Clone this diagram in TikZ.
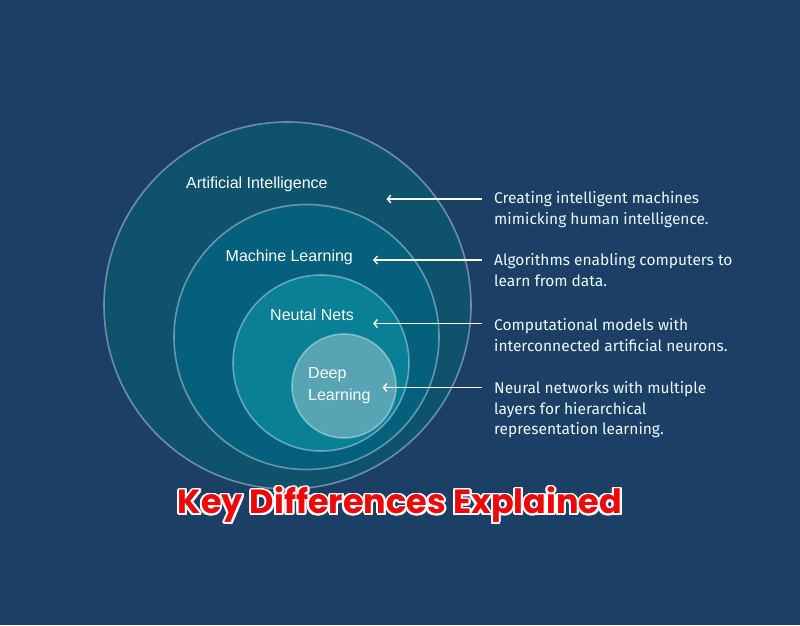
\documentclass[tikz,border=0pt]{standalone}
\usepackage{fontspec}
\setmainfont{Fira Sans}
\newfontfamily\ringfont{Liberation Sans}
\newfontfamily\headfont{Poppins}
\usetikzlibrary{arrows.meta}
\definecolor{bgnavy}{RGB}{28,63,102}
\definecolor{aifill}{RGB}{14,82,110}
\definecolor{mlfill}{RGB}{4,96,124}
\definecolor{nnfill}{RGB}{9,128,150}
\definecolor{dlfill}{RGB}{86,164,180}
\definecolor{headred}{RGB}{238,8,10}
\begin{document}
\begin{tikzpicture}
			[x=1pt, y=-1pt,
			ring/.style={draw=white, draw opacity=0.38, line width=1.6pt},
			lbl/.style={text=white, font=\ringfont\fontsize{16}{22.5}\selectfont, inner sep=0pt, anchor=base west, align=left},
			desc/.style={text=white!93!cyan, font=\fontsize{15.5}{20.5}\selectfont, inner sep=0pt, anchor=north west, align=left},
			pointer/.style={-{Straight Barb[length=3.5pt,width=8pt]}, white, line width=1.4pt},
			head/.style={font=\headfont\bfseries\fontsize{33.5}{36}\selectfont, inner sep=0pt}]
			\fill[bgnavy] (0,0) rectangle (800,625);
			% nested circles
			\fill[aifill, ring] (287.5,305.5) circle[radius=183.5];
			\fill[mlfill, ring] (306.5,337) circle[radius=132.5];
			\fill[nnfill, ring] (321,363) circle[radius=88];
			\fill[dlfill, ring] (344,386) circle[radius=52];
			\node[lbl] (ai) at (186,188.5) {Artificial Intelligence};
			\node[lbl] (ml) at (225.5,261) {Machine Learning};
			\node[lbl] (nn) at (270,320.5) {Neutal Nets};
			\node[lbl] (dl) at (308,400.7) {Deep\\Learning};
			% descriptions
			\node[desc] (d1) at (494,191.5) {Creating intelligent machines\\mimicking human intelligence.};
			\node[desc] (d2) at (494,253.5) {Algorithms enabling computers to\\learn from data.};
			\node[desc] (d3) at (494,318.5) {Computational models with\\interconnected artificial neurons.};
			\node[desc] (d4) at (494,381.5) {Neural networks with multiple\\layers for hierarchical\\representation learning.};
			\coordinate (s1) at (481.5,199); \coordinate (t1) at (386.5,199);
			\coordinate (s2) at (481.5,260); \coordinate (t2) at (373,260);
			\coordinate (s3) at (481.5,323.5); \coordinate (t3) at (373,323.5);
			\coordinate (s4) at (481.5,387.5); \coordinate (t4) at (382.5,387.5);
			\draw[pointer] (s1) -- (t1);
			\draw[pointer] (s2) -- (t2);
			\draw[pointer] (s3) -- (t3);
			\draw[pointer] (s4) -- (t4);
			% title with white rim
			\foreach \a in {0,20,...,340}
				\node[head, text=white, shift={(\a:2)}] at (400,505) {Key Differences Explained};
			\node[head, text=headred] (title) at (400,505) {Key Differences Explained};
\end{tikzpicture}
\end{document}
